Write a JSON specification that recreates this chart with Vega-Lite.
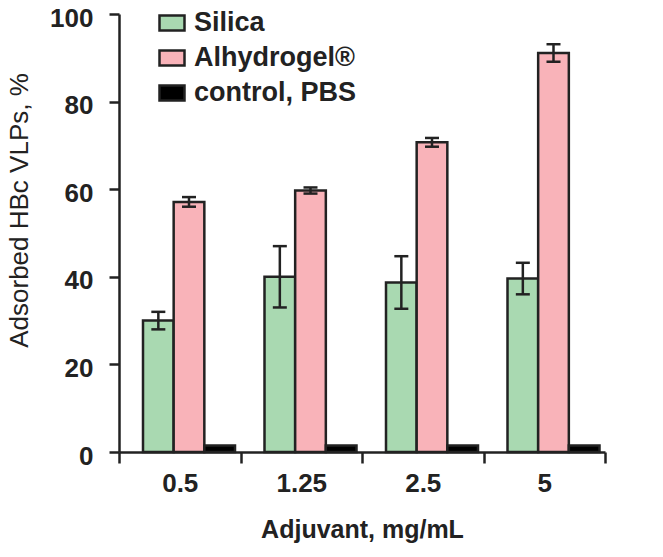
{
  "$schema": "https://vega.github.io/schema/vega-lite/v6.json",
  "autosize": {"type": "none"},
  "padding": {"left": 119, "top": 14, "right": 58, "bottom": 105},
  "width": 486,
  "height": 438,
  "background": "white",
  "config": {
    "view": {"stroke": null},
    "font": "Liberation Sans"
  },
  "data": {
    "values": [
      {"dose": "0.5", "group": "Silica", "value": 30.0, "err": 2.0},
      {"dose": "0.5", "group": "Alhydrogel®", "value": 57.1, "err": 1.1},
      {"dose": "0.5", "group": "control, PBS", "value": 1.5, "err": null},
      {"dose": "1.25", "group": "Silica", "value": 40.0, "err": 7.0},
      {"dose": "1.25", "group": "Alhydrogel®", "value": 59.7, "err": 0.7},
      {"dose": "1.25", "group": "control, PBS", "value": 1.5, "err": null},
      {"dose": "2.5", "group": "Silica", "value": 38.7, "err": 6.0},
      {"dose": "2.5", "group": "Alhydrogel®", "value": 70.7, "err": 1.0},
      {"dose": "2.5", "group": "control, PBS", "value": 1.5, "err": null},
      {"dose": "5", "group": "Silica", "value": 39.6, "err": 3.6},
      {"dose": "5", "group": "Alhydrogel®", "value": 91.1, "err": 2.0},
      {"dose": "5", "group": "control, PBS", "value": 1.5, "err": null}
    ]
  },
  "transform": [
    {"calculate": "datum.value - datum.err", "as": "lo"},
    {"calculate": "datum.value + datum.err", "as": "hi"}
  ],
  "encoding": {
    "x": {
      "field": "dose", "type": "nominal", "sort": ["0.5", "1.25", "2.5", "5"],
      "scale": {"paddingInner": 0, "paddingOuter": 0},
      "axis": {
        "title": "Adjuvant, mg/mL", "labelAngle": 0, "bandPosition": 0,
        "tickBand": "extent",
        "domainColor": "#222", "domainWidth": 2.5, "tickColor": "#222", "tickWidth": 2.5, "tickSize": 11,
        "labelFont": "Liberation Sans", "labelFontWeight": "bold", "labelFontSize": 26, "labelColor": "#222",
        "labelPadding": 7,
        "titleFont": "Liberation Sans", "titleFontWeight": "bold", "titleFontSize": 25, "titleColor": "#222",
        "titlePadding": 21
      }
    },
    "xOffset": {
      "field": "group", "type": "nominal",
      "sort": ["Silica", "Alhydrogel®", "control, PBS"],
      "scale": {"range": [24, 116], "paddingInner": 0, "paddingOuter": 0}
    }
  },
  "layer": [
    {
      "mark": {"type": "bar", "stroke": "#222", "strokeWidth": 2.5},
      "encoding": {
        "y": {
          "field": "value", "type": "quantitative",
          "scale": {"domain": [0, 100], "nice": false},
          "axis": {
            "title": "Adsorbed HBc VLPs, %", "values": [0, 20, 40, 60, 80, 100], "grid": false,
            "domainColor": "#222", "domainWidth": 2.5, "tickColor": "#222", "tickWidth": 2.5, "tickSize": 10,
            "labelFont": "Liberation Sans", "labelFontWeight": "bold", "labelFontSize": 26, "labelColor": "#222",
            "labelPadding": 16, "labelOffset": 4,
            "titleFont": "Liberation Sans", "titleFontWeight": "normal", "titleFontSize": 26, "titleColor": "#222",
            "titlePadding": 17, "titleY": 196
          }
        },
        "color": {
          "field": "group", "type": "nominal",
          "sort": ["Silica", "Alhydrogel®", "control, PBS"],
          "scale": {"domain": ["Silica", "Alhydrogel®", "control, PBS"], "range": ["#a9d9b1", "#f9b3b9", "#000000"]},
          "legend": {
            "title": null, "orient": "none", "legendX": 39, "legendY": -5,
            "symbolType": "M-1,-0.6H1V0.6H-1Z", "symbolSize": 625, "symbolStrokeColor": "#222", "symbolStrokeWidth": 2.5,
            "symbolOpacity": 1,
            "labelFont": "Liberation Sans", "labelFontWeight": "bold", "labelFontSize": 27, "labelColor": "#222",
            "labelOffset": 8, "rowPadding": 8, "labelLimit": 400
          }
        }
      }
    },
    {
      "transform": [{"filter": "datum.err != null"}],
      "mark": {"type": "rule", "color": "#222", "strokeWidth": 2.5},
      "encoding": {
        "y": {"field": "lo", "type": "quantitative"},
        "y2": {"field": "hi"}
      }
    },
    {
      "transform": [{"filter": "datum.err != null"}],
      "mark": {"type": "tick", "color": "#222", "thickness": 2.5, "size": 14, "opacity": 1},
      "encoding": {"y": {"field": "lo", "type": "quantitative"}}
    },
    {
      "transform": [{"filter": "datum.err != null"}],
      "mark": {"type": "tick", "color": "#222", "thickness": 2.5, "size": 14, "opacity": 1},
      "encoding": {"y": {"field": "hi", "type": "quantitative"}}
    }
  ]
}
